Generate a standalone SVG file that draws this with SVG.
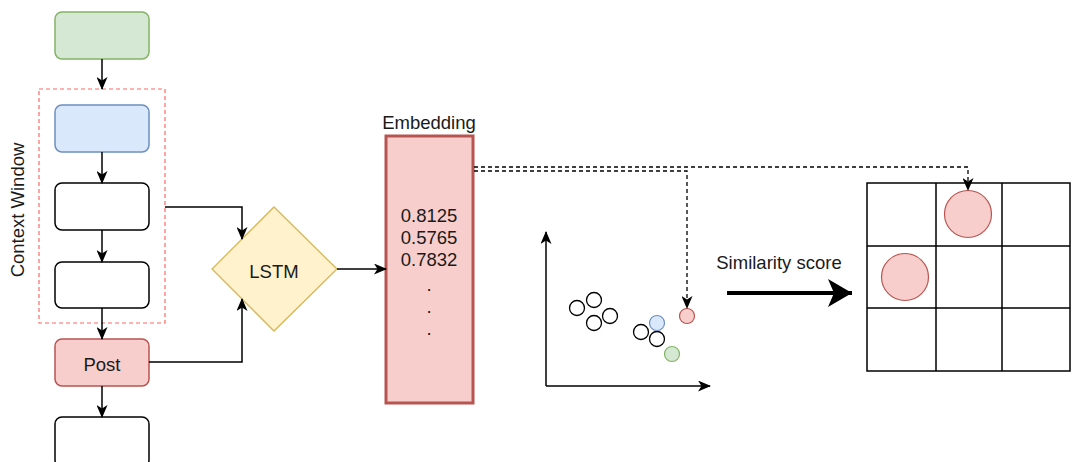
<svg xmlns="http://www.w3.org/2000/svg" width="1073" height="462" viewBox="0 0 1073 462">
<defs>
<style>
text{font-family:"Liberation Sans",Arial,sans-serif;fill:#1a1a1a;font-size:18.5px}
.box{stroke-width:1.5}
.w{fill:#ffffff;stroke:#000000}
.g{fill:#d5e8d4;stroke:#82b366}
.b{fill:#dae8fc;stroke:#6c8ebf}
.r{fill:#f8cecc;stroke:#b85450}
.e{fill:none;stroke:#000000;stroke-width:1.5}
.d{fill:none;stroke:#000000;stroke-width:1.3;stroke-dasharray:4 3}
.dot{fill:#ffffff;stroke:#000000;stroke-width:1.3}
</style>
<marker id="a" markerUnits="userSpaceOnUse" viewBox="0 0 13 11" refX="12" refY="5.5" markerWidth="13" markerHeight="11" orient="auto">
<path d="M0,0 L13,5.5 L0,11 L3.5,5.5 z" fill="#000"/>
</marker>
<marker id="ab" markerUnits="userSpaceOnUse" viewBox="0 0 24 28" refX="24" refY="14" markerWidth="24" markerHeight="28" orient="auto">
<path d="M0,0 L24,14 L0,28 L6,14 z" fill="#000"/>
</marker>
</defs>

<g id="container">
<rect x="39" y="89" width="126" height="234" fill="none" stroke="#ff6666" stroke-width="1.2" stroke-dasharray="4 3"/>
<text transform="translate(24,210) rotate(-90)" text-anchor="middle">Context Window</text>
</g>

<g id="n-green"><rect class="box g" x="55" y="12" width="94" height="47" rx="7"/></g>
<g id="n-blue"><rect class="box b" x="55" y="105" width="94" height="47" rx="7"/></g>
<g id="n-box1"><rect class="box w" x="55" y="183" width="94" height="47" rx="7"/></g>
<g id="n-box2"><rect class="box w" x="55" y="262" width="94" height="46" rx="7"/></g>
<g id="n-post"><rect class="box r" x="55" y="339" width="94" height="47" rx="7"/><text x="102" y="371" text-anchor="middle">Post</text></g>
<g id="n-box3"><rect class="box w" x="55" y="417" width="94" height="50" rx="7"/></g>

<g id="n-lstm"><polygon points="274,207 337,269 274,331 212,269" fill="#fff2cc" stroke="#d6b656" stroke-width="1.3"/><text x="274" y="278" text-anchor="middle">LSTM</text></g>

<g id="n-embedding">
<text x="429" y="129" text-anchor="middle">Embedding</text>
<rect x="386" y="136" width="87" height="267" fill="#f8cecc" stroke="#b85450" stroke-width="3"/>
<text x="429" y="222" text-anchor="middle">0.8125</text>
<text x="429" y="244" text-anchor="middle">0.5765</text>
<text x="429" y="266" text-anchor="middle">0.7832</text>
<text x="429" y="291" text-anchor="middle">.</text>
<text x="429" y="313" text-anchor="middle">.</text>
<text x="429" y="335" text-anchor="middle">.</text>
</g>

<g id="n-scatter">
<circle class="dot" cx="577" cy="308" r="7.5"/>
<circle class="dot" cx="594" cy="300" r="7.5"/>
<circle class="dot" cx="594" cy="323" r="7.5"/>
<circle class="dot" cx="610" cy="316" r="7.5"/>
<circle class="dot" cx="641" cy="332" r="7.5"/>
<circle class="dot" cx="657" cy="339" r="7.5"/>
<circle cx="657" cy="323" r="7.5" fill="#dae8fc" stroke="#6c8ebf" stroke-width="1.2"/>
<circle cx="672" cy="354" r="7.5" fill="#d5e8d4" stroke="#82b366" stroke-width="1.2"/>
<circle cx="687" cy="316" r="7.5" fill="#f8cecc" stroke="#b85450" stroke-width="1.2"/>
</g>

<g id="n-similarity"><text x="779" y="269" text-anchor="middle">Similarity score</text></g>

<g id="n-grid">
<rect x="867" y="183" width="203" height="188" fill="#ffffff" stroke="#000" stroke-width="1.5"/>
<path d="M936,183 V371 M1002,183 V371 M867,246 H1070 M867,308 H1070" stroke="#000" stroke-width="1.5" fill="none"/>
<circle cx="968" cy="214" r="23.5" fill="#f8cecc" stroke="#b85450" stroke-width="1.2"/>
<circle cx="905" cy="277" r="23.5" fill="#f8cecc" stroke="#b85450" stroke-width="1.2"/>
</g>

<g id="connectors">
<path class="e" d="M102,59 V89" marker-end="url(#a)"/>
<path class="e" d="M102,152 V183" marker-end="url(#a)"/>
<path class="e" d="M102,230 V262" marker-end="url(#a)"/>
<path class="e" d="M102,308 V339" marker-end="url(#a)"/>
<path class="e" d="M102,386 V417" marker-end="url(#a)"/>
<path class="e" d="M165,207 H242 V239" marker-end="url(#a)"/>
<path class="e" d="M149,362 H242 V299" marker-end="url(#a)"/>
<path class="e" d="M337,269 H386" marker-end="url(#a)"/>
<path class="d" d="M474,171 H687 V308" marker-end="url(#a)"/>
<path class="d" d="M474,167 H968 V190" marker-end="url(#a)"/>
<path class="e" d="M546,386 V232" marker-end="url(#a)"/>
<path class="e" d="M546,386 H710" marker-end="url(#a)"/>
<path d="M727,293 H852" stroke="#000" stroke-width="4" fill="none" marker-end="url(#ab)"/>
</g>
</svg>
